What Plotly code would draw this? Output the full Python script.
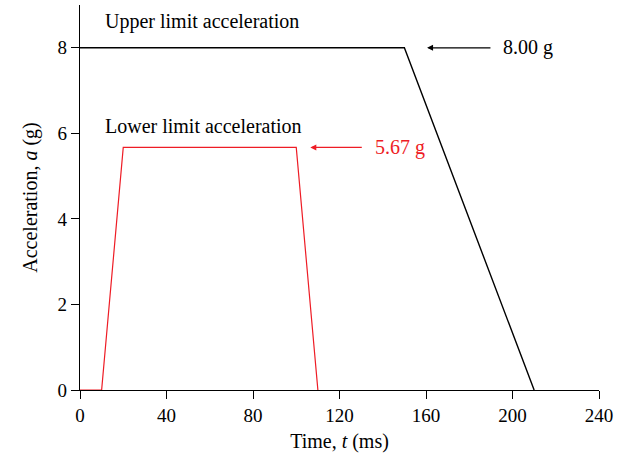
import plotly.graph_objects as go

# Acceleration profiles (time in ms, acceleration in g)
upper_t = [0, 150, 210]
upper_a = [8.0, 8.0, 0.0]

lower_t = [0, 10, 20, 100, 110]
lower_a = [0.0, 0.0, 5.67, 5.67, 0.0]

x_ticks = [0, 40, 80, 120, 160, 200, 240]
y_ticks = [0, 2, 4, 6, 8]

FONT = "Liberation Serif"
TXT = 20

fig = go.Figure()
fig.add_trace(go.Scatter(x=upper_t, y=upper_a, mode="lines",
                         line=dict(color="black", width=1.4), showlegend=False))
fig.add_trace(go.Scatter(x=lower_t, y=lower_a, mode="lines",
                         line=dict(color="#ee1c25", width=1.2), showlegend=False))

annotations = [
    dict(x=10.5, y=8.62, text="Upper limit acceleration", showarrow=False,
         xanchor="left", yanchor="middle", font=dict(family=FONT, size=TXT, color="black")),
    dict(x=10.5, y=6.17, text="Lower limit acceleration", showarrow=False,
         xanchor="left", yanchor="middle", font=dict(family=FONT, size=TXT, color="black")),
    # arrow pointing to the upper plateau
    dict(x=160.5, y=upper_a[1], ax=190.5, ay=upper_a[1], axref="x", ayref="y",
         xref="x", yref="y", text="", showarrow=True, arrowhead=2,
         arrowsize=1, arrowwidth=1.2, arrowcolor="black"),
    dict(x=194.5, y=upper_a[1], text=f"{upper_a[1]:.2f} g", showarrow=False,
         xanchor="left", yanchor="middle", font=dict(family=FONT, size=TXT, color="black")),
    # arrow pointing to the lower plateau
    dict(x=106.5, y=lower_a[2], ax=131, ay=lower_a[2], axref="x", ayref="y",
         xref="x", yref="y", text="", showarrow=True, arrowhead=2,
         arrowsize=1, arrowwidth=1.2, arrowcolor="#ee1c25"),
    dict(x=135.5, y=lower_a[2], text=f"{lower_a[2]:.2f} g", showarrow=False,
         xanchor="left", yanchor="middle", font=dict(family=FONT, size=TXT, color="#ee1c25")),
]

fig.update_layout(
    width=628, height=460,
    margin=dict(l=80, r=29, t=5, b=70),
    paper_bgcolor="white", plot_bgcolor="white",
    font=dict(family=FONT, size=18, color="black"),
    annotations=annotations,
    xaxis=dict(range=[0, 240], tickvals=x_ticks, ticks="outside", ticklen=8,
               tickwidth=1.2, tickcolor="black", showline=True, linecolor="black",
               linewidth=1.4, showgrid=False, zeroline=False,
               tickfont=dict(family=FONT, size=19),
               title=dict(text="Time, <i>t</i> (ms)", standoff=8,
                          font=dict(family=FONT, size=20))),
    yaxis=dict(range=[0, 9], tickvals=y_ticks, ticks="outside", ticklen=8,
               tickwidth=1.2, tickcolor="black", showline=True, linecolor="black",
               linewidth=1.4, showgrid=False, zeroline=False,
               tickfont=dict(family=FONT, size=19),
               title=dict(text="Acceleration, <i>a</i> (g)", standoff=14,
                          font=dict(family=FONT, size=20))),
)

fig.write_html("out.html")
